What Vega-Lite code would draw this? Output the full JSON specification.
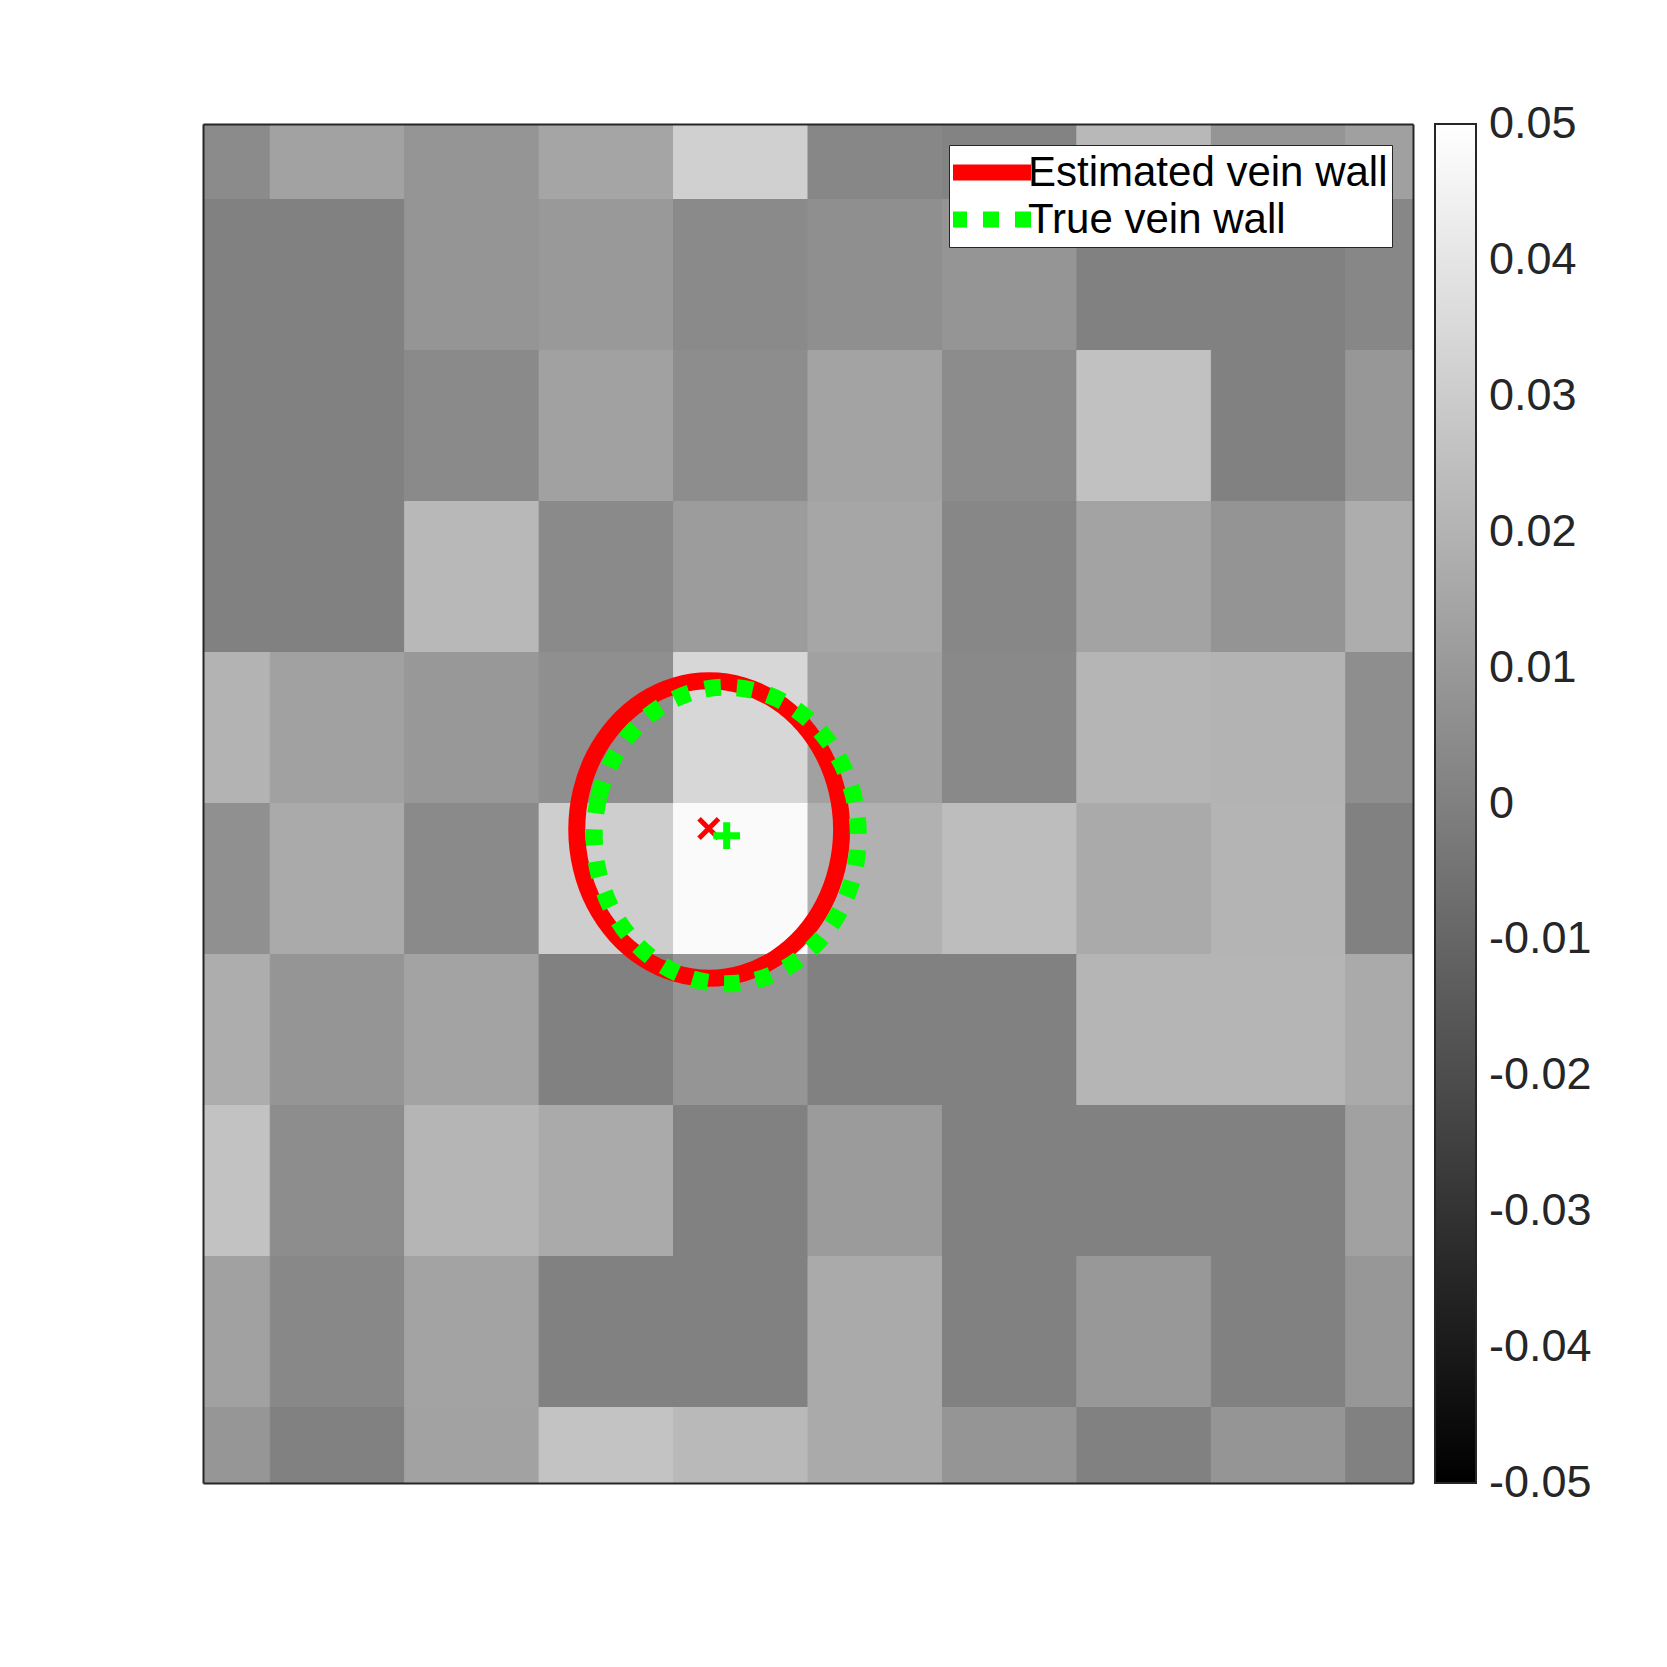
{
  "$schema": "https://vega.github.io/schema/vega-lite/v6.json",
  "width": 1210,
  "height": 1359,
  "autosize": {"type": "none"},
  "padding": {"left": 203, "top": 124, "right": 254, "bottom": 184},
  "background": "white",
  "config": {"view": {"stroke": null}, "font": "Liberation Sans"},
  "datasets": {
    "cells": [
      {"r": 0, "c": 0, "v": 0.0045}, {"r": 0, "c": 1, "v": 0.0135}, {"r": 0, "c": 2, "v": 0.0084}, {"r": 0, "c": 3, "v": 0.0147}, {"r": 0, "c": 4, "v": 0.0316}, {"r": 0, "c": 5, "v": 0.0029}, {"r": 0, "c": 6, "v": 0.0014}, {"r": 0, "c": 7, "v": 0.0222}, {"r": 0, "c": 8, "v": 0.0084}, {"r": 0, "c": 9, "v": 0.0128},
      {"r": 1, "c": 0, "v": 0.0006}, {"r": 1, "c": 1, "v": 0.0006}, {"r": 1, "c": 2, "v": 0.0084}, {"r": 1, "c": 3, "v": 0.0100}, {"r": 1, "c": 4, "v": 0.0041}, {"r": 1, "c": 5, "v": 0.0061}, {"r": 1, "c": 6, "v": 0.0084}, {"r": 1, "c": 7, "v": 0.0006}, {"r": 1, "c": 8, "v": 0.0006}, {"r": 1, "c": 9, "v": 0.0029},
      {"r": 2, "c": 0, "v": 0.0006}, {"r": 2, "c": 1, "v": 0.0006}, {"r": 2, "c": 2, "v": 0.0041}, {"r": 2, "c": 3, "v": 0.0131}, {"r": 2, "c": 4, "v": 0.0053}, {"r": 2, "c": 5, "v": 0.0139}, {"r": 2, "c": 6, "v": 0.0049}, {"r": 2, "c": 7, "v": 0.0257}, {"r": 2, "c": 8, "v": 0.0006}, {"r": 2, "c": 9, "v": 0.0092},
      {"r": 3, "c": 0, "v": 0.0006}, {"r": 3, "c": 1, "v": 0.0006}, {"r": 3, "c": 2, "v": 0.0222}, {"r": 3, "c": 3, "v": 0.0041}, {"r": 3, "c": 4, "v": 0.0112}, {"r": 3, "c": 5, "v": 0.0151}, {"r": 3, "c": 6, "v": 0.0029}, {"r": 3, "c": 7, "v": 0.0139}, {"r": 3, "c": 8, "v": 0.0080}, {"r": 3, "c": 9, "v": 0.0178},
      {"r": 4, "c": 0, "v": 0.0202}, {"r": 4, "c": 1, "v": 0.0131}, {"r": 4, "c": 2, "v": 0.0096}, {"r": 4, "c": 3, "v": 0.0061}, {"r": 4, "c": 4, "v": 0.0343}, {"r": 4, "c": 5, "v": 0.0131}, {"r": 4, "c": 6, "v": 0.0037}, {"r": 4, "c": 7, "v": 0.0210}, {"r": 4, "c": 8, "v": 0.0202}, {"r": 4, "c": 9, "v": 0.0057},
      {"r": 5, "c": 0, "v": 0.0065}, {"r": 5, "c": 1, "v": 0.0167}, {"r": 5, "c": 2, "v": 0.0041}, {"r": 5, "c": 3, "v": 0.0308}, {"r": 5, "c": 4, "v": 0.0480}, {"r": 5, "c": 5, "v": 0.0194}, {"r": 5, "c": 6, "v": 0.0241}, {"r": 5, "c": 7, "v": 0.0167}, {"r": 5, "c": 8, "v": 0.0206}, {"r": 5, "c": 9, "v": 0.0006},
      {"r": 6, "c": 0, "v": 0.0178}, {"r": 6, "c": 1, "v": 0.0084}, {"r": 6, "c": 2, "v": 0.0139}, {"r": 6, "c": 3, "v": 0.0006}, {"r": 6, "c": 4, "v": 0.0084}, {"r": 6, "c": 5, "v": 0.0006}, {"r": 6, "c": 6, "v": 0.0006}, {"r": 6, "c": 7, "v": 0.0210}, {"r": 6, "c": 8, "v": 0.0210}, {"r": 6, "c": 9, "v": 0.0167},
      {"r": 7, "c": 0, "v": 0.0261}, {"r": 7, "c": 1, "v": 0.0053}, {"r": 7, "c": 2, "v": 0.0210}, {"r": 7, "c": 3, "v": 0.0167}, {"r": 7, "c": 4, "v": 0.0006}, {"r": 7, "c": 5, "v": 0.0108}, {"r": 7, "c": 6, "v": 0.0006}, {"r": 7, "c": 7, "v": 0.0006}, {"r": 7, "c": 8, "v": 0.0006}, {"r": 7, "c": 9, "v": 0.0131},
      {"r": 8, "c": 0, "v": 0.0131}, {"r": 8, "c": 1, "v": 0.0033}, {"r": 8, "c": 2, "v": 0.0139}, {"r": 8, "c": 3, "v": 0.0006}, {"r": 8, "c": 4, "v": 0.0006}, {"r": 8, "c": 5, "v": 0.0167}, {"r": 8, "c": 6, "v": 0.0006}, {"r": 8, "c": 7, "v": 0.0096}, {"r": 8, "c": 8, "v": 0.0006}, {"r": 8, "c": 9, "v": 0.0092},
      {"r": 9, "c": 0, "v": 0.0088}, {"r": 9, "c": 1, "v": 0.0006}, {"r": 9, "c": 2, "v": 0.0135}, {"r": 9, "c": 3, "v": 0.0265}, {"r": 9, "c": 4, "v": 0.0225}, {"r": 9, "c": 5, "v": 0.0167}, {"r": 9, "c": 6, "v": 0.0084}, {"r": 9, "c": 7, "v": 0.0006}, {"r": 9, "c": 8, "v": 0.0084}, {"r": 9, "c": 9, "v": 0.0006}
    ],
    "walls": [
      {"s": "Estimated vein wall", "i": 0, "x": 4.750, "y": 4.672},
      {"s": "Estimated vein wall", "i": 1, "x": 4.716, "y": 4.927},
      {"s": "Estimated vein wall", "i": 2, "x": 4.618, "y": 5.165},
      {"s": "Estimated vein wall", "i": 3, "x": 4.462, "y": 5.369},
      {"s": "Estimated vein wall", "i": 4, "x": 4.258, "y": 5.525},
      {"s": "Estimated vein wall", "i": 5, "x": 4.020, "y": 5.623},
      {"s": "Estimated vein wall", "i": 6, "x": 3.765, "y": 5.657},
      {"s": "Estimated vein wall", "i": 7, "x": 3.510, "y": 5.623},
      {"s": "Estimated vein wall", "i": 8, "x": 3.273, "y": 5.525},
      {"s": "Estimated vein wall", "i": 9, "x": 3.069, "y": 5.369},
      {"s": "Estimated vein wall", "i": 10, "x": 2.912, "y": 5.165},
      {"s": "Estimated vein wall", "i": 11, "x": 2.814, "y": 4.927},
      {"s": "Estimated vein wall", "i": 12, "x": 2.780, "y": 4.672},
      {"s": "Estimated vein wall", "i": 13, "x": 2.814, "y": 4.417},
      {"s": "Estimated vein wall", "i": 14, "x": 2.912, "y": 4.180},
      {"s": "Estimated vein wall", "i": 15, "x": 3.069, "y": 3.976},
      {"s": "Estimated vein wall", "i": 16, "x": 3.273, "y": 3.819},
      {"s": "Estimated vein wall", "i": 17, "x": 3.510, "y": 3.721},
      {"s": "Estimated vein wall", "i": 18, "x": 3.765, "y": 3.687},
      {"s": "Estimated vein wall", "i": 19, "x": 4.020, "y": 3.721},
      {"s": "Estimated vein wall", "i": 20, "x": 4.258, "y": 3.819},
      {"s": "Estimated vein wall", "i": 21, "x": 4.462, "y": 3.976},
      {"s": "Estimated vein wall", "i": 22, "x": 4.618, "y": 4.180},
      {"s": "Estimated vein wall", "i": 23, "x": 4.716, "y": 4.417},
      {"s": "True vein wall", "i": 0, "x": 2.910, "y": 4.712},
      {"s": "True vein wall", "i": 1, "x": 2.944, "y": 4.458},
      {"s": "True vein wall", "i": 2, "x": 3.042, "y": 4.221},
      {"s": "True vein wall", "i": 3, "x": 3.198, "y": 4.018},
      {"s": "True vein wall", "i": 4, "x": 3.401, "y": 3.862},
      {"s": "True vein wall", "i": 5, "x": 3.638, "y": 3.763},
      {"s": "True vein wall", "i": 6, "x": 3.892, "y": 3.730},
      {"s": "True vein wall", "i": 7, "x": 4.146, "y": 3.763},
      {"s": "True vein wall", "i": 8, "x": 4.383, "y": 3.862},
      {"s": "True vein wall", "i": 9, "x": 4.586, "y": 4.018},
      {"s": "True vein wall", "i": 10, "x": 4.742, "y": 4.221},
      {"s": "True vein wall", "i": 11, "x": 4.841, "y": 4.458},
      {"s": "True vein wall", "i": 12, "x": 4.874, "y": 4.712},
      {"s": "True vein wall", "i": 13, "x": 4.841, "y": 4.966},
      {"s": "True vein wall", "i": 14, "x": 4.742, "y": 5.203},
      {"s": "True vein wall", "i": 15, "x": 4.586, "y": 5.406},
      {"s": "True vein wall", "i": 16, "x": 4.383, "y": 5.562},
      {"s": "True vein wall", "i": 17, "x": 4.146, "y": 5.661},
      {"s": "True vein wall", "i": 18, "x": 3.892, "y": 5.694},
      {"s": "True vein wall", "i": 19, "x": 3.638, "y": 5.661},
      {"s": "True vein wall", "i": 20, "x": 3.401, "y": 5.562},
      {"s": "True vein wall", "i": 21, "x": 3.198, "y": 5.406},
      {"s": "True vein wall", "i": 22, "x": 3.042, "y": 5.203},
      {"s": "True vein wall", "i": 23, "x": 2.944, "y": 4.966}
    ],
    "est_center": [{"x": 3.762, "y": 4.665}],
    "true_center": [{"x": 3.895, "y": 4.713}]
  },
  "layer": [
    {
      "data": {"name": "cells"},
      "mark": {"type": "rect", "clip": true, "strokeWidth": 1, "stroke": {"expr": "scale('color', datum.v)"}},
      "encoding": {
        "x": {"field": "c", "type": "ordinal",
              "scale": {"paddingInner": 0, "paddingOuter": 0, "range": [{"expr": "-width/18"}, {"expr": "width + width/18"}]},
              "axis": null},
        "y": {"field": "r", "type": "ordinal",
              "scale": {"paddingInner": 0, "paddingOuter": 0, "range": [{"expr": "-height/18"}, {"expr": "height + height/18"}]},
              "axis": null},
        "color": {
          "field": "v", "type": "quantitative",
          "scale": {"domain": [-0.05, 0.05], "range": ["#000000", "#ffffff"], "interpolate": "rgb", "clamp": true},
          "legend": {
            "title": null, "orient": "right", "offset": 22, "padding": 0,
            "gradientLength": 1359, "gradientThickness": 41,
            "gradientStrokeColor": "#262626", "gradientStrokeWidth": 2,
            "values": [-0.05, -0.04, -0.03, -0.02, -0.01, 0, 0.01, 0.02, 0.03, 0.04, 0.05],
            "format": "~g",
            "labelExpr": "replace(datum.label, '\u2212', '-')",
            "labelFont": "Liberation Sans", "labelFontSize": 45, "labelColor": "#262626",
            "labelOffset": 13, "labelOverlap": false, "labelLimit": 0,
            "encode": {"labels": {"enter": {"baseline": {"value": "middle"}}, "update": {"baseline": {"value": "middle"}}}}
          }
        }
      }
    },
    {
      "data": {"name": "walls"},
      "mark": {"type": "line", "clip": true, "interpolate": "cardinal-closed", "strokeCap": "butt", "strokeWidth": 17},
      "encoding": {
        "x": {"field": "x", "type": "quantitative", "scale": {"domain": [0, 9], "nice": false, "zero": false},
              "axis": {"orient": "top", "labels": false, "ticks": false, "grid": false, "title": null, "domainColor": "#262626", "domainWidth": 2, "zindex": 1}},
        "y": {"field": "y", "type": "quantitative", "scale": {"domain": [0, 9], "nice": false, "zero": false, "reverse": true},
              "axis": {"orient": "right", "labels": false, "ticks": false, "grid": false, "title": null, "domainColor": "#262626", "domainWidth": 2, "zindex": 1}},
        "order": {"field": "i", "type": "quantitative"},
        "stroke": {
          "field": "s", "type": "nominal",
          "scale": {"domain": ["Estimated vein wall", "True vein wall"], "range": ["#ff0000", "#00ff00"]},
          "legend": {
            "title": null, "orient": "top-right", "offset": 21,
            "fillColor": "white", "strokeColor": "#262626", "padding": 4,
            "labelFont": "Liberation Sans", "labelFontSize": 42, "labelColor": "#000000",
            "symbolType": "M-4,0L4,0", "symbolSize": 400, "symbolStrokeWidth": 16,
            "symbolOffset": 17, "labelOffset": 16, "rowPadding": 0, "clipHeight": 47, "labelLimit": 0
          }
        },
        "strokeDash": {
          "field": "s", "type": "nominal",
          "scale": {"domain": ["Estimated vein wall", "True vein wall"], "range": [[1000, 0], [16, 16]]}
        }
      }
    },
    {
      "layer": [
        {
          "data": {"name": "est_center"},
          "mark": {"type": "point", "shape": "M-1,-1L1,1M-1,1L1,-1", "filled": false, "stroke": "#ff0000", "strokeWidth": 5, "size": 380, "opacity": 1, "clip": true},
          "encoding": {
            "x": {"field": "x", "type": "quantitative", "scale": {"domain": [0, 9], "nice": false, "zero": false},
                  "axis": {"orient": "bottom", "labels": false, "ticks": false, "grid": false, "title": null, "domainColor": "#262626", "domainWidth": 2, "zindex": 1}},
            "y": {"field": "y", "type": "quantitative", "scale": {"domain": [0, 9], "nice": false, "zero": false, "reverse": true},
                  "axis": {"orient": "left", "labels": false, "ticks": false, "grid": false, "title": null, "domainColor": "#262626", "domainWidth": 2, "zindex": 1}}
          }
        },
        {
          "data": {"name": "true_center"},
          "mark": {"type": "point", "shape": "M-1,0L1,0M0,-1L0,1", "filled": false, "stroke": "#00ff00", "strokeWidth": 7, "size": 713, "opacity": 1, "clip": true},
          "encoding": {
            "x": {"field": "x", "type": "quantitative", "scale": {"domain": [0, 9], "nice": false, "zero": false},
                  "axis": {"orient": "bottom", "labels": false, "ticks": false, "grid": false, "title": null, "domainColor": "#262626", "domainWidth": 2, "zindex": 1}},
            "y": {"field": "y", "type": "quantitative", "scale": {"domain": [0, 9], "nice": false, "zero": false, "reverse": true},
                  "axis": {"orient": "left", "labels": false, "ticks": false, "grid": false, "title": null, "domainColor": "#262626", "domainWidth": 2, "zindex": 1}}
          }
        }
      ]
    }
  ],
  "resolve": {
    "scale": {"x": "independent", "y": "independent"},
    "axis": {"x": "independent", "y": "independent"}
  }
}
